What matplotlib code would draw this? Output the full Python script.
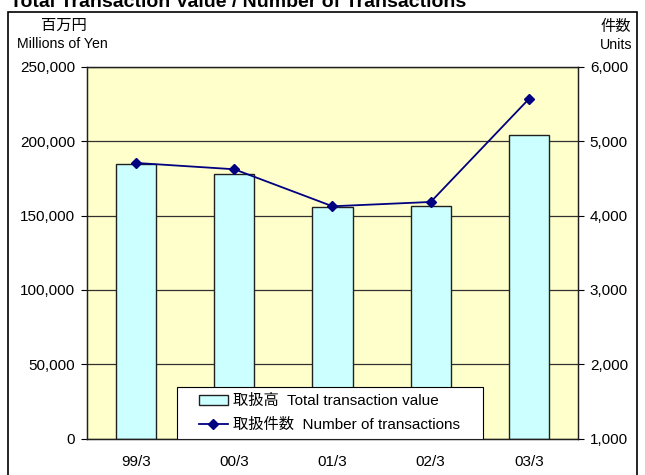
#!/usr/bin/env python3
# -*- coding: utf-8 -*-

import matplotlib
matplotlib.use('Agg')
import matplotlib.pyplot as plt
import numpy as np
from matplotlib.patches import Rectangle

plt.rcParams['font.family'] = ['Liberation Sans', 'Noto Sans CJK JP', 'DejaVu Sans']

periods = ['99/3', '00/3', '01/3', '02/3', '03/3']
values = [185000, 178000, 155600, 156500, 204200]   # millions of yen
counts = [4708, 4623, 4125, 4183, 5569]             # units

title = 'Total Transaction Value / Number of Transactions'
bar_label = '取扱高  Total transaction value'
line_label = '取扱件数  Number of transactions'

fig = plt.figure(figsize=(6.45, 4.75), dpi=100)
ax = fig.add_axes([0.1349, 0.0768, 0.7612, 0.7823])
ax.set_facecolor('#FFFFCC')

x = np.arange(len(periods))
bars = ax.bar(x, values, width=0.41, color='#CCFFFF', edgecolor='#202020',
              linewidth=1.0, zorder=2)
ax.set_xlim(-0.5, len(periods) - 0.5)
ax.set_ylim(0, 250000)
ax.set_yticks(np.arange(0, 250001, 50000))
ax.set_yticklabels(['{:,}'.format(v) for v in range(0, 250001, 50000)])
ax.yaxis.grid(True, color='#303030', linewidth=0.9, zorder=1)
ax.set_axisbelow(True)
ax.set_xticks(x)
ax.set_xticklabels(periods)
ax.tick_params(axis='x', length=0, pad=12, labelsize=11)
ax.tick_params(axis='y', length=4, width=0.8, pad=4.5, labelsize=11)

ax2 = ax.twinx()
line, = ax2.plot(x, counts, color='#000080', linewidth=1.3, marker='D',
                 markersize=5.5, zorder=3)
ax2.set_ylim(1000, 6000)
ax2.set_yticks(np.arange(1000, 6001, 1000))
ax2.set_yticklabels(['{:,}'.format(v) for v in range(1000, 6001, 1000)])
ax2.tick_params(axis='y', length=4, width=0.8, pad=4.5, labelsize=11)

for a in (ax, ax2):
    for s in a.spines.values():
        s.set_color('#202020')
        s.set_linewidth(0.9)

# legend frame drawn by hand so the entries can sit inset like the original
frame = Rectangle((0.183, 0.0), 0.623, 0.139, transform=ax2.transAxes,
                  facecolor='white', edgecolor='black', linewidth=0.8,
                  zorder=4)
ax2.add_patch(frame)
leg = ax2.legend([bars, line], [bar_label, line_label],
                 loc='center left', bbox_to_anchor=(0.228, 0.068),
                 fontsize=11, frameon=False, borderpad=0, borderaxespad=0,
                 handlelength=1.9, handletextpad=0.3, labelspacing=0.62)
leg.set_zorder(5)

fig.text(0.016, 1 - 7 / 475, title, fontsize=14, fontweight='bold',
         va='baseline', ha='left')

fig.text(64 / 645, 1 - 26 / 475, '百万円', fontsize=11, ha='center',
         va='center')
fig.text(17 / 645, 1 - 44 / 475, 'Millions of Yen', fontsize=10.2,
         ha='left', va='center')
fig.text(631 / 645, 1 - 27 / 475, '件数', fontsize=11, ha='right',
         va='center')
fig.text(632 / 645, 1 - 45 / 475, 'Units', fontsize=10.2, ha='right',
         va='center')

border = Rectangle((8 / 645, -0.05), 629 / 645, 1.05 - 12 / 475,
                   transform=fig.transFigure, fill=False, edgecolor='black',
                   linewidth=1.2, clip_on=False)
fig.patches.append(border)

plt.savefig('out.png', dpi=100)
plt.close()
